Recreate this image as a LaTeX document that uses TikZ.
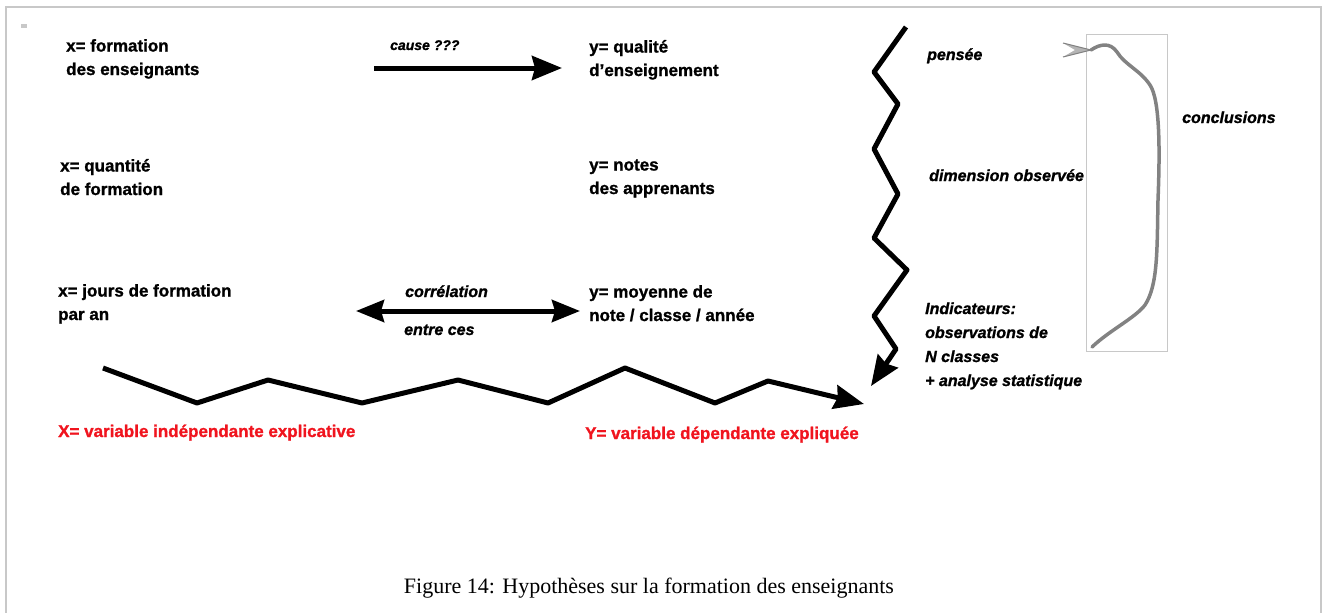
\documentclass[tikz,border=0pt]{standalone}
\usepackage{fontspec}
\setmainfont[BoldFeatures={FakeBold=1.2},BoldItalicFeatures={FakeBold=1.2}]{Liberation Sans}
\newfontfamily\capfont{Liberation Serif}
\usetikzlibrary{arrows.meta}
\definecolor{framegray}{RGB}{200,200,200}
\definecolor{curvegray}{RGB}{130,130,130}
\definecolor{varred}{RGB}{240,20,30}
\tikzset{
  lbl/.style={anchor=base west, inner sep=0pt, align=left,
    font=\bfseries\fontsize{17}{23.5}\selectfont},
  ilbl/.style={lbl, font=\bfseries\itshape\fontsize{16}{24}\selectfont},
  redlbl/.style={lbl, text=varred},
  heavy/.style={line width=5pt, line join=round},
  bighead/.style={-{Stealth[length=30pt,width=24pt,inset=3pt]}},
  bothheads/.style={{Stealth[length=28pt,width=22pt,inset=3pt]}-{Stealth[length=28pt,width=22pt,inset=3pt]}},
}
\begin{document}
\begin{tikzpicture}[x=1pt,y=-1pt]
\useasboundingbox (0,0) rectangle (1326,613);
% outer frame and corner mark
\draw[framegray, line width=1.3pt] (6,613) -- (6,7) -- (1321,7) -- (1321,613);
\fill[framegray] (21,24) rectangle (27,28);

% left column: explanatory variables (anchored on the baseline of the last line)
\node[lbl] (xform) at (66,75) {x= formation\\des enseignants};
\node[lbl] (xquant) at (60,195) {x= quantité\\de formation};
\node[lbl] (xjours) at (58,320) {x= jours de formation\\par an};

% middle column: explained variables
\node[lbl] (yqual) at (589,76) {y= qualité\\d'enseignement};
\node[lbl] (ynotes) at (589,194) {y= notes\\des apprenants};
\node[lbl] (ymoy) at (589,321) {y= moyenne de\\note / classe / année};

% causal arrow
\coordinate (c1) at (374,68);
\coordinate (c2) at (562,68);
\draw[heavy, bighead] (c1) -- (c2);
\node[ilbl, font=\bfseries\itshape\fontsize{14}{24}\selectfont] (cause) at (390,50) {cause ???};

% correlation arrow
\coordinate (r1) at (356,311);
\coordinate (r2) at (580,311);
\draw[heavy, bothheads] (r1) -- (r2);
\node[ilbl] (correl) at (405,297) {corrélation};
\node[ilbl] (entre) at (404,335) {entre ces};

% red captions for the variables
\node[redlbl] (Xvar) at (58,437) {X= variable indépendante explicative};
\node[redlbl] (Yvar) at (585,439) {Y= variable dépendante expliquée};

% horizontal zigzag arrow
\coordinate (h0) at (103,368);
\coordinate (h9) at (864,404);
\draw[heavy, bighead] (h0) -- (197,403) -- (268,380) -- (362,403) -- (458,380)
  -- (548,403) -- (625,368) -- (715,403) -- (768,381) -- (h9);

% vertical zigzag arrow
\coordinate (v0) at (906,27);
\coordinate (v9) at (871,386);
\draw[heavy, bighead] (v0) -- (874,72) -- (898,104) -- (874,149) -- (898,194)
  -- (874,238) -- (907,270) -- (874,316) -- (896,349) -- (v9);

% research steps
\node[ilbl] (pensee) at (927,60) {pensée};
\node[ilbl] (dim) at (929,181) {dimension observée};
\node[ilbl] (indic) at (925,386) {Indicateurs:\\observations de\\N classes\\+ analyse statistique};
\node[ilbl] (concl) at (1182,123) {conclusions};

% feedback loop box
\node[draw=framegray, line width=1.3pt, minimum width=81pt, minimum height=317pt,
  inner sep=0pt, anchor=north west] (loopbox) at (1086,34) {};
\coordinate (l0) at (1092,347);
\coordinate (l9) at (1091,50);
\draw[curvegray, line width=3.5pt, line cap=round, line join=round]
  (l0) .. controls (1110,330) and (1135,318) .. (1145,305)
  .. controls (1158,285) and (1157,250) .. (1158,200)
  .. controls (1160,150) and (1160,100) .. (1150,85)
  .. controls (1140,70) and (1125,65) .. (1117,52)
  .. controls (1110,42) and (1100,44) .. (l9);
\coordinate (t1) at (1063,43);
\coordinate (t2) at (1063,57);
\fill[curvegray!60] (l9) -- (t1) -- (1075,50) -- (t2) -- cycle;
\draw[curvegray, line width=1pt] (t1) -- (l9) -- (t2);

% figure caption
\node[font=\capfont\fontsize{22}{24}\selectfont, anchor=base, inner sep=0pt] (caption)
  at (649,593) {Figure 14: Hypothèses sur la formation des enseignants};
\end{tikzpicture}
\end{document}
